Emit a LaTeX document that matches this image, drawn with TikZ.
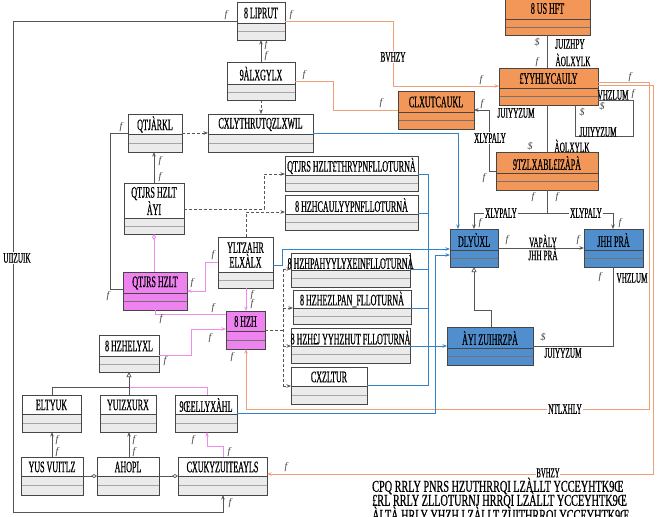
\documentclass[tikz,border=0pt]{standalone}
\usepackage{fontspec}
\setmainfont{Liberation Serif}
\newfontfamily\cnd[FakeStretch=0.5,FakeBold=0.6]{Liberation Serif}
\newfontfamily\cndw[FakeStretch=0.62,FakeBold=0.6]{Liberation Serif}
\usetikzlibrary{arrows.meta,fit,calc}
\definecolor{orangeF}{RGB}{243,151,88}
\definecolor{orangeL}{RGB}{240,160,120}
\definecolor{blueF}{RGB}{80,142,205}
\definecolor{blueL}{RGB}{50,130,200}
\definecolor{pinkF}{RGB}{238,130,238}
\definecolor{pinkL}{RGB}{240,140,240}
\definecolor{lowgray}{RGB}{235,235,235}
\definecolor{edgec}{RGB}{70,70,70}
\definecolor{connc}{RGB}{85,85,85}
\tikzset{
  w up/.style={fill=white}, w lo/.style={fill=lowgray}, w mid/.style={draw=gray!70},
  o up/.style={fill=orangeF}, o lo/.style={fill=orangeF}, o mid/.style={draw=black!55},
  b up/.style={fill=blueF}, b lo/.style={fill=blueF}, b mid/.style={draw=black!55},
  p up/.style={fill=pinkF}, p lo/.style={fill=pinkF}, p mid/.style={draw=black!55},
  boxedge/.style={draw=edgec, line width=0.8pt},
  nm/.style={font=\cnd\fontsize{16}{13}\selectfont, align=center, inner sep=0},
  lbl/.style={font=\cnd\fontsize{14.5}{14}\selectfont, inner sep=1pt},
  wlbl/.style={lbl, fill=white},
  mult/.style={font=\itshape\fontsize{10}{10}\selectfont, text=gray!50!black, inner sep=0},
  conn/.style={draw=connc, line width=0.7pt},
  oconn/.style={draw=orangeL, line width=0.9pt},
  bconn/.style={draw=blueL, line width=0.8pt},
  pconn/.style={draw=pinkL, line width=0.9pt},
  dconn/.style={draw=connc, line width=0.7pt, dashed, dash pattern=on 3pt off 2pt},
  arr/.style={-{Stealth[length=4.5pt,width=3.5pt]}},
  gen/.style={-{Triangle[open,length=5pt,width=5pt]}},
  agg/.style={{Diamond[open,length=6pt,width=4pt]}-},
  aggend/.style={-{Diamond[open,length=6pt,width=4pt]}},
}
\newcommand\cls[8]{%
  \fill[#7 lo] (#2,#6) rectangle (#4,#5);
  \fill[#7 up] (#2,#3) rectangle (#4,#6);
  \draw[#7 mid] (#2,{(#6+#5)/2}) -- (#4,{(#6+#5)/2});
  \draw[boxedge] (#2,#6) -- (#4,#6);
  \node[boxedge, inner sep=0pt, outer sep=0pt, fit={(#2,#3) (#4,#5)}] (#1) {};
  \node[nm] at ({(#2+#4)/2},{(#3+#6)/2+0.5}) {#8};
}
\begin{document}
\begin{tikzpicture}[x=1pt,y=-1pt]
\useasboundingbox (0,0) rectangle (662,517);
\clip (0,0) rectangle (662,517);
\fill[white] (0,0) rectangle (662,517);

% ---------- boxes ----------
\cls{lipr}{237}{2}{285}{40}{23}{w}{8 LIPRUT}
\cls{alx}{227}{62}{295}{100}{84}{w}{9ÀLXGYLX}
\cls{qtj}{128}{114}{182}{152}{134}{w}{QTJÀRKL}
\cls{cxl}{208}{114}{313}{152}{134}{w}{CXLYTHRUTQZLXWIL}
\cls{ush}{505}{-3}{590}{35}{19}{o}{8 US HFT}
\cls{yyh}{499}{68}{598}{105}{88}{o}{£YYHLYCAULY}
\cls{clx}{398}{91}{474}{129}{112}{o}{CLXUTCAUKL}
\cls{tzl}{496}{152}{598}{190}{173}{o}{9TZLXABL£IZÀPÀ}
\cls{qnine}{285}{156}{418}{191}{175}{w}{QTJRS HZLT£THRYPNFLLOTURNÀ}
\cls{hten}{285}{195}{418}{230}{214}{w}{8 HZHCAULYYPNFLLOTURNÀ}
\cls{ylt}{218}{237}{273}{288}{272}{w}{YLTZAHR\\ELXÀLX}
\cls{htw}{291}{253}{410}{287}{270}{w}{8 HZHPAHYYLYXEINFLLOTURNÀ}
\cls{hth}{293}{290}{411}{324}{308}{w}{8 HZHEZLPAN\_FLLOTURNÀ}
\cls{hfo}{291}{328}{410}{363}{346}{w}{8 HZH£J YYHZHUT FLLOTURNÀ}
\cls{cxz}{291}{367}{367}{404}{386}{w}{CXZLTUR}
\cls{qsix}{124}{183}{184}{234}{218}{w}{QTJRS HZLT\\ÀYI}
\cls{qsev}{123}{272}{187}{310}{293}{p}{QTJRS HZLT}
\cls{hzh}{226}{311}{265}{349}{331}{p}{8 HZH}
\cls{dly}{450}{229}{498}{267}{250}{b}{DLYÙXL}
\cls{jhh}{584}{229}{643}{267}{250}{b}{JHH PRÀ}
\cls{ayi}{447}{327}{533}{365}{348}{b}{ÀYI ZUIHRZPÀ}
\cls{ely}{99}{335}{159}{372}{356}{w}{8 HZHELYXL}
\cls{elt}{22}{395}{81}{432}{414}{w}{ELTYUK}
\cls{yui}{100}{395}{156}{432}{414}{w}{YUIZXURX}
\cls{oel}{175}{395}{237}{432}{414}{w}{9ŒELLYXÀHL}
\cls{yus}{21}{457}{83}{495}{476}{w}{YUS VUITLZ}
\cls{aho}{97}{457}{159}{495}{476}{w}{AHOPL}
\cls{cxu}{178}{457}{267}{495}{476}{w}{CXUKYZUITEAYLS}

% ---------- gray connectors ----------
\draw[conn,arr] (alx.north -| 261,0) -- (lipr.south -| 261,0);
\node[mult] at (266,45) {f}; \node[mult] at (266,56) {f};
\draw[dconn,arr] (alx.south -| 261,0) -- (cxl.north -| 261,0);
\draw[dconn,arr] (qtj.east) -- (cxl.west);
\draw[conn,arr] (qsix.north -| 154,0) -- (qtj.south -| 154,0);
\node[mult] at (160,161) {f}; \node[mult] at (160,177) {f};
\draw[conn] (qtj.west) -- (110,133) -- (110,289) -- (qsev.west |- 0,289);
\node[mult] at (121,127) {f}; \node[mult] at (108,296) {f};
\draw[conn,arr] (lipr.west) -- (13,21) -- (13,512) -- (223,512) -- (cxu.south -| 223,0);
\node[mult] at (226,15) {f}; \node[mult] at (230,503) {f};
\node[wlbl] at (17,258) {UIIZUIK};

\draw[conn,arr] (tzl.west |- 0,171) -- (489,171) -- (489,110) -- (clx.east |- 0,110);
\node[wlbl] at (490,138) {XLYPALY};
\node[mult] at (482,104) {f}; \node[mult] at (484,178) {f};

\draw[conn] (ush.south -| 547,0) -- (yyh.north -| 547,0);
\node[mult] at (537,42) {\$}; \node[mult] at (537,62) {f};
\node[lbl] at (570,44) {JUIZHPY}; \node[lbl] at (573,60) {ÀOLXYLK};
\draw[conn] (yyh.south -| 547,0) -- (tzl.north -| 547,0);
\node[lbl] at (516,113) {JUIYYZUM};
\node[mult] at (530,146) {\$}; \node[lbl] at (572,146) {ÀOLXYLK};
\draw[conn] (yyh.east |- 0,100) -- (633,100) -- (633,136) -- (575,136) -- (yyh.south -| 575,0);
\node[lbl] at (613,95) {VHZLUM}; \node[mult] at (633,94) {f};
\node[mult] at (602,106) {\$}; \node[mult] at (582,112) {\$};
\node[lbl] at (598,132) {JUIYYZUM};

\draw[conn] (tzl.south -| 547,0) -- (547,213);
\draw[conn,arr] (547,213) -- (474,213) -- (dly.north -| 474,0);
\draw[conn,arr] (547,213) -- (613,213) -- (jhh.north -| 613,0);
\node[wlbl] at (501,213) {XLYPALY}; \node[wlbl] at (586,213) {XLYPALY};
\node[mult] at (533,197) {f}; \node[mult] at (557,197) {f};
\node[mult] at (480,223) {f}; \node[mult] at (620,223) {f};
\draw[conn,arr] (dly.east) -- (jhh.west);
\node[lbl] at (543,241) {VAPÀLY}; \node[lbl] at (543,254) {JHH PRÀ};
\node[mult] at (507,240) {f}; \node[mult] at (578,240) {f};
\draw[conn,gen] (ayi.north -| 491,0) -- (491,310) -- (474,310) -- (dly.south -| 474,0);
\draw[conn] (jhh.south -| 613,0) -- (613,346) -- (ayi.east |- 0,346);
\node[lbl] at (632,278) {VHZLUM}; \node[mult] at (600,277) {f};
\node[mult] at (543,337) {\$}; \node[lbl] at (563,353) {JUIYYZUM};

% ---------- orange connectors ----------
\draw[oconn,arr] (lipr.east) -- (393,21) -- (393,86) -- (yyh.west |- 0,86);
\node[wlbl] at (393,57) {BVHZY};
\node[mult] at (291,15) {f}; \node[mult] at (481,80) {f};
\draw[oconn] (alx.east) -- (333,81) -- (333,110) -- (clx.west |- 0,110);
\node[mult] at (304,75) {f}; \node[mult] at (381,103) {f};
\draw[oconn,arr] (yyh.east |- 0,82) -- (649,82) -- (649,409) -- (246,409) -- (hzh.south -| 246,0);
\node[wlbl] at (565,409) {NTLXHLY};
\node[mult] at (630,77) {f}; \node[mult] at (232,357) {f};
\draw[oconn,arr] (yyh.east |- 0,85) -- (653,85) -- (653,474) -- (cxu.east |- 0,474);
\node[wlbl, inner sep=0.3pt, font=\cnd\fontsize{13.5}{13}\selectfont] at (548,473) {BVHZY};
\node[mult] at (286,467) {f};

% ---------- blue connectors ----------
\draw[bconn,arr] (cxl.east) -- (458,133) -- (dly.north -| 458,0);
\draw[bconn,arr] (ylt.east |- 0,265) -- (282,265) -- (282,249) -- (dly.west |- 0,249);
\draw[bconn] (qnine.east |- 0,174) -- (428,174) -- (428,385) -- (cxz.east |- 0,385);
\draw[bconn] (hten.east |- 0,213) -- (428,213);
\draw[bconn] (htw.east |- 0,269) -- (428,269);
\draw[bconn] (hth.east |- 0,308) -- (428,308);
\draw[bconn,arr] (hfo.east |- 0,346) -- (ayi.west |- 0,346);
\draw[bconn,arr] (oel.east |- 0,413) -- (435,413) -- (435,255) -- (dly.west |- 0,255);

% ---------- dashed connectors ----------
\draw[dconn,arr] (qsix.east |- 0,209) -- (264,209) -- (264,174) -- (qnine.west |- 0,174);
\draw[dconn,arr] (ylt.north -| 246,0) -- (246,212) -- (hten.west |- 0,212);
\draw[dconn] (hzh.east |- 0,330) -- (283,330);
\draw[dconn] (283,269) -- (283,386);
\draw[dconn,arr] (283,269) -- (htw.west |- 0,269);
\draw[dconn,arr] (283,308) -- (hth.west |- 0,308);
\draw[dconn,arr] (283,346) -- (hfo.west |- 0,346);
\draw[dconn,arr] (283,386) -- (cxz.west |- 0,386);

% ---------- pink connectors ----------
\draw[pconn,agg] (qsix.south -| 154,0) -- (qsev.north -| 154,0);
\draw[pconn,arr] (ylt.west |- 0,262) -- (205,262) -- (205,291) -- (qsev.east |- 0,291);
\node[mult] at (213,255) {f}; \node[mult] at (192,283) {f};
\draw[pconn,arr] (ylt.south -| 246,0) -- (hzh.north -| 246,0);
\node[mult] at (252,295) {f}; \node[mult] at (252,304) {f};
\draw[pconn] (qsev.south -| 155,0) -- (155,314) -- (hzh.west |- 0,314);
\node[mult] at (161,319) {f}; \node[mult] at (213,308) {f};
\draw[pconn,arr] (ely.east |- 0,355) -- (191,355) -- (191,329) -- (hzh.west |- 0,329);
\node[mult] at (210,338) {f}; \node[mult] at (165,361) {f};
\draw[pconn] (oel.north -| 207,0) -- (207,387) -- (129,387);
\draw[conn] (elt.north -| 52,0) -- (52,387) -- (129,387);
\draw[conn] (yui.north -| 129,0) -- (129,387);
\draw[conn,gen] (129,387) -- (ely.south -| 129,0);
\draw[pconn,arr] (cxu.north -| 223,0) -- (223,446) -- (207,446) -- (oel.south -| 207,0);
\node[mult] at (193,440) {f}; \node[mult] at (229,452) {f};

% ---------- bottom-left gray ----------
\draw[conn,arr] (yus.north -| 52,0) -- (elt.south -| 52,0);
\node[mult] at (57,440) {f}; \node[mult] at (57,452) {f};
\draw[conn,arr] (aho.north -| 129,0) -- (yui.south -| 129,0);
\node[mult] at (134,440) {f}; \node[mult] at (134,452) {f};
\draw[conn,aggend] (yus.east) -- (aho.west);
\draw[conn,aggend] (aho.east) -- (cxu.west);

% ---------- bottom text ----------
\begin{scope}[every node/.style={anchor=west, inner sep=0, font=\cndw\fontsize{16.5}{16}\selectfont}]
\node (tl1) at (372,486) {CPQ RRLY PNRS HZUTHRRQI LZÀLLT YCCEYHTK9Œ};
\node (tl2) at (372,500) {£RL RRLY ZLLOTURNJ HRRQI LZÀLLT YCCEYHTK9Œ};
\node (tl3) at (372,515) {ÀLTÀ HRLY YHZH LZÀLLT ZUITHRRQI YCCEYHTK9Œ};
\end{scope}
\end{tikzpicture}
\end{document}
